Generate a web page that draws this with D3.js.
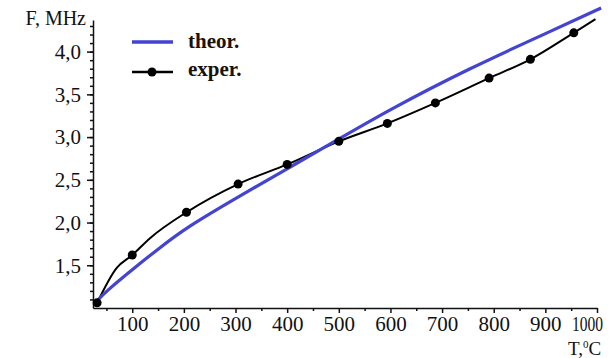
<!DOCTYPE html>
<html>
<head>
<meta charset="utf-8">
<script src="https://cdn.jsdelivr.net/npm/d3@7"></script>
<style>
  html, body { margin: 0; padding: 0; background: #fff; }
  svg { display: block; font-family: "Liberation Serif", "Times New Roman", serif; }
</style>
</head>
<body>
<div id="chart"></div>
<script>
// data
const theorT = [28, 50, 100, 150, 204, 305, 400, 464, 600, 755, 900, 1008];
const theorF = [1.06, 1.20, 1.45, 1.69, 1.94, 2.30, 2.63, 2.85, 3.33, 3.81, 4.21, 4.51];

const expT = [32, 100, 205, 305, 400, 500, 594, 687, 791, 871, 955];
const expF = [1.06, 1.62, 2.12, 2.45, 2.68, 2.95, 3.16, 3.40, 3.69, 3.91, 4.22];
// line of the experiment also passes through a few unmarked points
const expLineT = [32, 70, 100, 135, 205, 305, 400, 500, 594, 687, 791, 871, 955, 997];
const expLineF = [1.06, 1.47, 1.62, 1.82, 2.12, 2.45, 2.68, 2.95, 3.16, 3.40, 3.69, 3.91, 4.22, 4.38];

const xTicks = [100, 200, 300, 400, 500, 600, 700, 800, 900, 1000];
const xMinor = [50, 150, 250, 350, 450, 550, 650, 750, 850, 950];
const yTicks = [1.5, 2.0, 2.5, 3.0, 3.5, 4.0];
const yMinor = d3.range(11, 44).map((d) => d / 10);

const legendLabels = ['theor.', 'exper.'];

// settings
const W = 613, H = 358;
const blue = '#4343d4';
const serif = 'Liberation Serif';

const x = d3.scaleLinear().domain([24, 1000]).range([93, 597]);
const y = d3.scaleLinear().domain([1.0, 4.37]).range([308, 20]);

const svg = d3.select('#chart').append('svg')
  .attr('width', W).attr('height', H);
svg.append('rect').attr('width', W).attr('height', H).attr('fill', '#fff');

// minor ticks
const yMinorAxis = svg.append('g')
  .attr('transform', 'translate(' + x.range()[0] + ',0)')
  .call(d3.axisLeft(y).tickValues(yMinor).tickSize(3).tickFormat(''));
yMinorAxis.select('.domain').remove();
const xMinorAxis = svg.append('g')
  .attr('transform', 'translate(0,' + y.range()[0] + ')')
  .call(d3.axisBottom(x).tickValues(xMinor).tickSize(3).tickFormat(''));
xMinorAxis.select('.domain').remove();

// major axes
const yAxis = svg.append('g')
  .attr('transform', 'translate(' + x.range()[0] + ',0)')
  .call(d3.axisLeft(y).tickValues(yTicks).tickSize(6).tickSizeOuter(0).tickPadding(6)
    .tickFormat((d) => d3.format('.1f')(d).replace('.', ',')));
yAxis.selectAll('text').attr('font-size', 21).attr('fill', '#111').attr('font-family', serif);

const xAxis = svg.append('g')
  .attr('transform', 'translate(0,' + y.range()[0] + ')')
  .call(d3.axisBottom(x).tickValues(xTicks).tickSize(5).tickSizeOuter(0).tickPadding(3)
    .tickFormat(d3.format('d')));
xAxis.selectAll('text').attr('font-size', 21).attr('fill', '#111').attr('font-family', serif);
// last label is squeezed in the original
xAxis.selectAll('.tick').filter((d) => d === 1000).select('text')
  .attr('transform', 'translate(-10,0) scale(0.74,1)');

svg.selectAll('.domain, .tick line').attr('stroke', '#111').attr('stroke-width', 1.5);

// axis titles
svg.append('text').attr('x', 86).attr('y', 25).attr('text-anchor', 'end')
  .attr('font-size', 20).attr('fill', '#111').text('F, MHz');
const tTitle = svg.append('text').attr('x', 568).attr('y', 355).attr('font-size', 19).attr('fill', '#111');
tTitle.append('tspan').text('T,');
tTitle.append('tspan').attr('font-size', 11).attr('dy', -7).text('0');
tTitle.append('tspan').attr('dy', 7).text('C');

// curves
const theor = theorT.map((t, i) => [t, theorF[i]]);
const expLine = expLineT.map((t, i) => [t, expLineF[i]]);
const expPts = expT.map((t, i) => [t, expF[i]]);

const line = d3.line().x((d) => x(d[0])).y((d) => y(d[1]));

svg.append('path').datum(expLine).attr('d', line.curve(d3.curveMonotoneX))
  .attr('fill', 'none').attr('stroke', '#000').attr('stroke-width', 2);
svg.append('path').datum(theor).attr('d', line.curve(d3.curveBasis))
  .attr('fill', 'none').attr('stroke', blue).attr('stroke-width', 3.2);
svg.selectAll('.pt').data(expPts).join('circle')
  .attr('class', 'pt')
  .attr('cx', (d) => x(d[0])).attr('cy', (d) => y(d[1]))
  .attr('r', 4.5).attr('fill', '#000');

// legend
const legend = svg.append('g');
legend.append('line').attr('x1', 132).attr('x2', 173).attr('y1', 42).attr('y2', 42)
  .attr('stroke', blue).attr('stroke-width', 3.5);
legend.append('line').attr('x1', 132).attr('x2', 173).attr('y1', 72).attr('y2', 72)
  .attr('stroke', '#000').attr('stroke-width', 2.5);
legend.append('circle').attr('cx', 152).attr('cy', 72).attr('r', 4.5).attr('fill', '#000');
legend.selectAll('.lbl').data(legendLabels).join('text')
  .attr('class', 'lbl')
  .attr('x', 188).attr('y', (d, i) => 48 + i * 28)
  .attr('font-size', 21).attr('font-weight', 'bold').attr('fill', '#1a1208')
  .text((d) => d);
</script>
</body>
</html>
